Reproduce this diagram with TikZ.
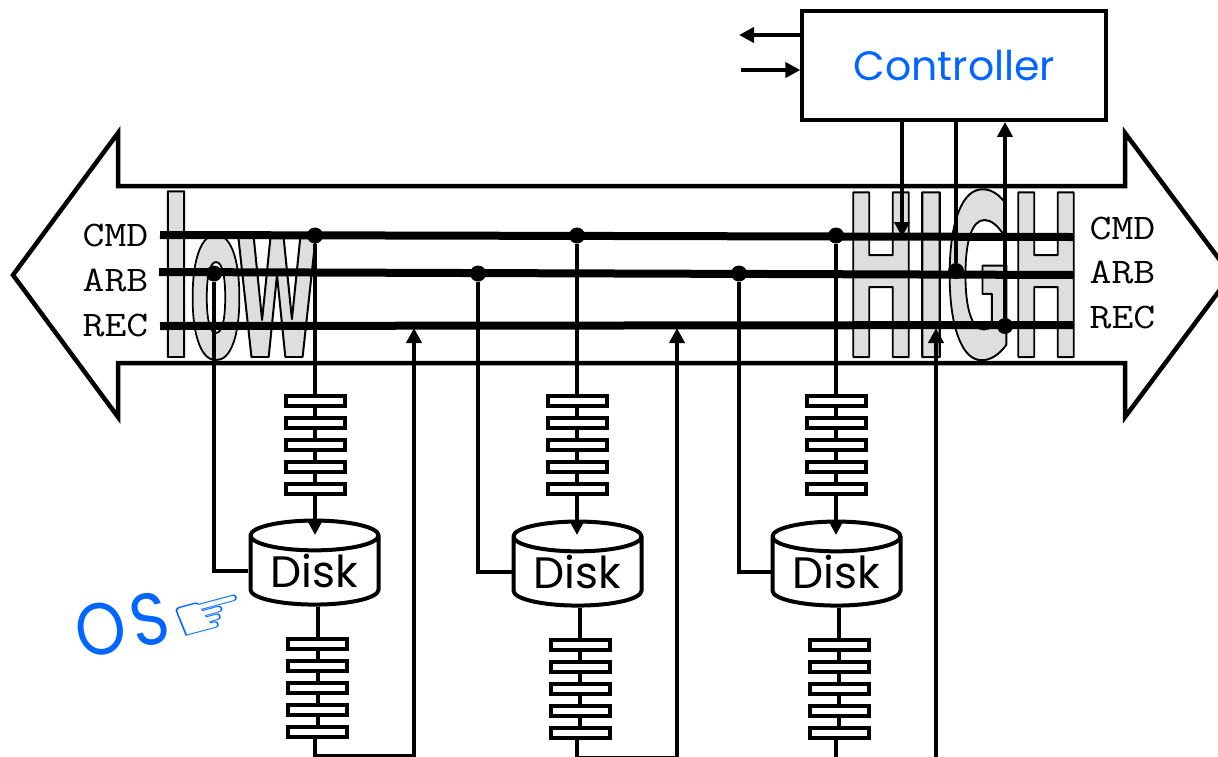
\documentclass[tikz,border=0pt]{standalone}
\usepackage{fontspec}
\usetikzlibrary{arrows.meta, shapes.geometric}
\newfontfamily\handfont{Poppins}
\newfontfamily\bigfont[FakeStretch=0.4]{DejaVu Sans Bold}
\newfontfamily\symbfont{DejaVu Sans}
\newcommand{\outlined}[1]{\special{pdf:code 2 Tr 2 w 1 j 0 0 0 RG}#1\special{pdf:code 0 Tr}}
\definecolor{labelblue}{RGB}{0,102,255}
\definecolor{lettergray}{RGB}{222,222,222}
\tikzset{
    wire/.style={line width=4pt},
    wirearrow/.style={wire, -{Triangle[length=15pt,width=15pt]}},
    busbar/.style={line width=8pt},
    busoutline/.style={line width=4.5pt, fill=white, miter limit=20},
    junction/.style={circle, fill=black, inner sep=0pt, minimum size=16pt},
    bufslot/.style={rectangle, draw, fill=white, line width=4pt, inner sep=0pt, minimum width=59pt, minimum height=10pt},
    disk/.style={cylinder, shape border rotate=90, draw, fill=white, line width=4pt, aspect=0.34, inner sep=0pt, minimum width=128pt, minimum height=84pt, font=\handfont\fontsize{44}{44}\selectfont},
    busname/.style={inner sep=0pt, transform shape, xscale=1.18, font=\ttfamily\fontsize{36}{36}\selectfont},
    bigletter/.style={anchor=base, inner sep=0pt, text=lettergray, transform shape, font=\bigfont\fontsize{226}{226}\selectfont},
}
\begin{document}
\begin{tikzpicture}[x=1pt, y=-1pt]
    \useasboundingbox (0,0) rectangle (1218,756);

    % Draw bus arrow
    \draw[busoutline] (13,275) -- (118,133) -- (118,186) -- (1125,186) -- (1125,133) -- (1231,275) -- (1125,417) -- (1125,363) -- (118,363) -- (118,417) -- cycle;

    % Draw letters
    \foreach \n/\t/\x/\sx/\sy/\y in {l/l/176/1.03/.965/357, o/o/216/.86/.965/357, w/w/277/1.0/.965/357, h/H/881/.94/1/357, i/I/931/1.03/1/357, g/G/979/.9/1/357, k/H/1046/.94/1/357} {
        \node[bigletter, xscale=\sx, yscale=\sy] (letter\n) at (\x,\y) {\outlined{\t}};
    }

    % Draw controller
    \node[rectangle, draw, fill=white, line width=4pt, inner sep=0pt, minimum width=304pt, minimum height=109pt, text=labelblue, font=\handfont\fontsize{41}{41}\selectfont] (ctrl) at (954.4,65.4) {\raisebox{-3pt}{Controller}};
    \coordinate (ctrloutL) at (739,35);
    \coordinate (ctrlinL) at (741,70);
    \draw[wirearrow] (ctrl.west |- ctrloutL) -- (ctrloutL);
    \draw[wirearrow] (ctrlinL) -- (ctrl.west |- ctrlinL);

    % Draw bus lines
    \coordinate (cmdL) at (160,235);
    \coordinate (cmdR) at (1073,237);
    \coordinate (arbL) at (159,272);
    \coordinate (arbR) at (1074,275);
    \coordinate (recL) at (160,326);
    \coordinate (recR) at (1073,325);
    \draw[busbar] (cmdL) -- (cmdR);
    \draw[busbar] (arbL) -- (arbR);
    \draw[busbar] (recL) -- (recR);

    % Draw bus names
    \node[busname] (cmdnameL) at (115.5,235) {CMD};
    \node[busname] (arbnameL) at (115.5,280) {ARB};
    \node[busname] (recnameL) at (115.5,325) {REC};
    \node[busname] (cmdnameR) at (1122.5,228) {CMD};
    \node[busname] (arbnameR) at (1122.5,272) {ARB};
    \node[busname] (recnameR) at (1122.5,317) {REC};

    % Draw disk columns
    \foreach \c/\xa/\xb/\xw/\xr/\xd/\yc/\yb/\yo in {1/315/317.5/214/414/314.5/571/755.5/0, 2/577/580/478/677/577.5/572/757.9/1, 3/836/839/739/936/836.5/572/762/1} {
        \node[junction] (cmd\c) at (\xa,235.5) {};
        \node[junction] (arb\c) at (\xw,273.5) {};
        \foreach \i/\ya/\yl in {1/401/644, 2/423/666, 3/445/688, 4/467/710, 5/489/732} {
            \node[bufslot] (bufa\c-\i) at (\xa,\ya) {};
            \node[bufslot] (bufb\c-\i) at (\xb,\yl+\yo) {};
        }
        \node[disk] (disk\c) at (\xd,\yc) {Disk};
        \coordinate (tip\c) at (\xa,535);
        \coordinate (turn\c) at (\xa,\yb);
        \coordinate (rec\c) at (\xr,328);
        \draw[wire] (cmd\c) -- (bufa\c-1);
        \foreach \i/\j in {1/2, 2/3, 3/4, 4/5} {
            \draw[wire] (bufa\c-\i) -- (bufa\c-\j);
            \draw[wire] (bufb\c-\i) -- (bufb\c-\j);
        }
        \draw[wirearrow] (bufa\c-5) -- (tip\c);
        \draw[wire] (arb\c) |- (disk\c.west);
        \draw[wire] (bufb\c-1 |- disk\c.south) -- (bufb\c-1);
        \draw[wirearrow] (turn\c |- bufb\c-5.south) -- (turn\c) -| (rec\c);
    }

    % Draw controller wires
    \coordinate (ctrlcmd) at (902,237);
    \node[junction] (ctrlarb) at (956,271) {};
    \node[junction] (ctrlrec) at (1005,326) {};
    \draw[wirearrow] (ctrl.south -| ctrlcmd) -- (ctrlcmd);
    \draw[wire] (ctrl.south -| ctrlarb) -- (ctrlarb);
    \draw[wirearrow] (ctrlrec) -- (ctrl.south -| ctrlrec);

    % Draw OS pointer
    \node[text=labelblue, rotate=12, yscale=1.15, transform shape, inner sep=0pt, font=\handfont\fontsize{64}{64}\selectfont] (osname) at (122,625) {O\kern5pt S};
    \node[text=labelblue, rotate=15, xscale=1.35, transform shape, inner sep=0pt, font=\symbfont\fontsize{64}{64}\selectfont] (ospointer) at (210,618) {☞};
\end{tikzpicture}
\end{document}
